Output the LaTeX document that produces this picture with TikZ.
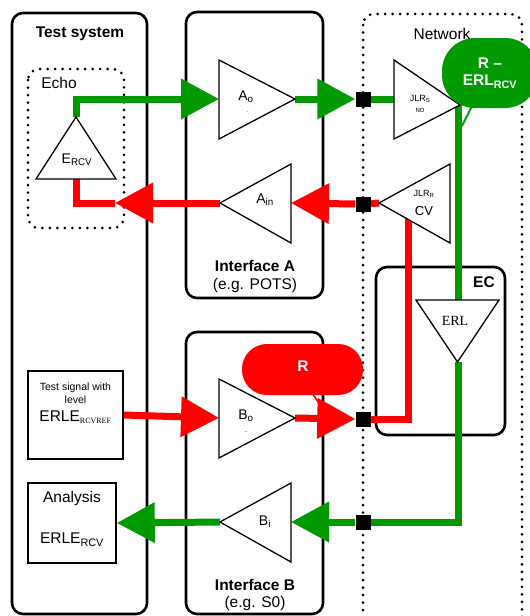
\documentclass[tikz,border=0pt]{standalone}
\usepackage{fontspec}
\setmainfont{Liberation Sans}
\newfontfamily\timesf{Liberation Serif}
\usetikzlibrary{arrows.meta}
\definecolor{gr}{RGB}{0,153,0}
\definecolor{rd}{RGB}{255,0,0}
\begin{document}
\begin{tikzpicture}[x=1pt,y=-1pt,
  box/.style={draw=black,line width=2.6pt,rounded corners=11pt,inner sep=0pt},
  dotbox/.style={draw=black,line width=3pt,dash pattern=on 0pt off 7.5pt,line cap=round,rounded corners=11pt},
  sbox/.style={draw=black,line width=1.6pt,inner sep=0pt},
  gline/.style={draw=gr,line width=7pt},
  rline/.style={draw=rd,line width=7pt},
  arr/.style={-{Triangle[length=38pt,width=39pt]}},
  tri/.style={draw=black,fill=white,line width=1.3pt,line join=miter},
  junc/.style={fill=black,minimum width=15pt,minimum height=15pt,inner sep=0pt},
  lbl/.style={inner sep=0pt,font=\fontsize{14}{16}\selectfont},
  ttl/.style={inner sep=0pt,font=\fontsize{15.5}{18}\selectfont\bfseries},
  txt/.style={inner sep=0pt,font=\fontsize{15.5}{18}\selectfont},
  small/.style={inner sep=0pt,font=\fontsize{10.5}{12}\selectfont},
  tiny/.style={inner sep=0pt,font=\fontsize{6}{7}\selectfont},
  bubtxt/.style={text=white,font=\fontsize{15.5}{19}\selectfont\bfseries,align=center,inner sep=0pt}
]
\useasboundingbox (0,0) rectangle (530,616);

% ---- frames ----
\node[box,minimum width=135pt,minimum height=601pt] (tsys) at (79.5,313.5) {};
\node[box,minimum width=137pt,minimum height=286pt] (ifa) at (254.5,155) {};
\node[box,minimum width=137pt,minimum height=282pt] (ifb) at (254.5,473) {};
\node[box,minimum width=129pt,minimum height=168pt] (ec) at (440.5,351) {};
\draw[dotbox] (28,69) rectangle (124,228);
\draw[dotbox] (363,14) rectangle (522,640);

% ---- boxes in test system ----
\node[sbox,minimum width=95pt,minimum height=88pt] (tsig) at (75.5,415) {};
\node[sbox,minimum width=88pt,minimum height=80pt] (an) at (72,523) {};

% ---- triangle reference points ----
\coordinate (Etop) at (76,117);
\coordinate (Ebot) at (76,179);
\coordinate (Aoin) at (219,99);
\coordinate (Aoout) at (295,99);
\coordinate (Ainin) at (291,203);
\coordinate (Ainout) at (220,203);
\coordinate (Boin) at (219,418);
\coordinate (Boout) at (295,418);
\coordinate (Biin) at (291,522);
\coordinate (Biout) at (220,522);
\coordinate (JSin) at (394,99);
\coordinate (JSout) at (458,104);
\coordinate (JRout) at (379,203);
\coordinate (JRbot) at (408,214);
\coordinate (ERLtop) at (458,300);
\coordinate (ERLbot) at (458,362);
\coordinate (ra) at (115,203);

% ---- junctions ----
\node[junc] (J1) at (363,99) {};
\node[junc] (J2) at (363,204) {};
\node[junc] (J3) at (363,419) {};
\node[junc] (J4) at (363,522) {};

% ---- green path ----
\draw[gline,arr] (Etop) |- (Aoin);
\draw[gline,arr] (Aoout) -- (J1.west);
\draw[gline] (J1.center) -- (JSin);
\draw[gline] (JSout) -- (ERLtop);
\draw[gline] (ERLbot) |- (J4.center);
\draw[gline,arr] (J4.west) -- (Biin);
\draw[gline,arr] (Biout) -- (an.east);

% ---- red path ----
\draw[rline] (J2.center) -- (JRout);
\draw[rline,arr] (J2.west) -- (Ainin);
\draw[rline,arr] (Ainout) -- (ra);
\draw[rline] (ra) -| (Ebot);
\draw[rline,arr] (tsig.east) -- (Boin);
\draw[rline,arr] (Boout) -- (J3.west);
\draw[rline] (J3.center) -| (JRbot);

% ---- triangles ----
\draw[tri] (Etop) -- (116,179) -- (36,179) -- cycle;
\draw[tri] (219,60) -- (Aoout) -- (219,139) -- cycle;
\draw[tri] (291,164) -- (Ainout) -- (291,243) -- cycle;
\draw[tri] (219,379) -- (Boout) -- (219,458) -- cycle;
\draw[tri] (291,483) -- (Biout) -- (291,562) -- cycle;
\draw[tri] (394,60) -- (460,105) -- (394,139) -- cycle;
\draw[tri] (450,164) -- (JRout) -- (450,243) -- cycle;
\draw[tri] (416,300) -- (499,300) -- (457.5,362) -- cycle;

% ---- junctions on top ----
\node[junc] at (J1) {};
\node[junc] at (J2) {};
\node[junc] at (J3) {};
\node[junc] at (J4) {};

% ---- bubbles ----
\draw[gr,line width=2pt] (473,104) -- (462,126);
\node[fill=gr,rounded corners=33pt,minimum width=96pt,minimum height=70pt,inner sep=0pt] (bubg) at (490,73) {};
\node[bubtxt] at (490,63) {R –};
\node[bubtxt] at (490,82) {ERL\textsubscript{RCV}};
\draw[rd,line width=1.5pt] (312,393) -- (323,409);
\node[fill=rd,rounded corners=25pt,minimum width=121pt,minimum height=51pt,inner sep=0pt] (bubr) at (302.5,369.5) {};
\node[bubtxt] at (303,366) {R};

% ---- texts ----
\node[ttl] at (80,34) {Test system};
\node[txt] at (59,83) {Echo};
\node[lbl] at (77,160) {E\textsubscript{RCV}};
\node[lbl] at (246,97) {A\textsubscript{o}};
\node[tiny] at (248,112) {.};
\node[lbl] at (265,200) {A\textsubscript{in}};
\node[lbl] at (246,416) {B\textsubscript{o}};
\node[tiny] at (246,432) {..};
\node[lbl] at (265,522) {B\textsubscript{i}};
\node[ttl] at (255,266) {Interface A};
\node[txt] at (255,285) {(e.g. POTS)};
\node[ttl] at (255,585) {Interface B};
\node[txt] at (255,603) {(e.g. S0)};
\node[txt] at (442,34) {Network};
\node[inner sep=0pt,font=\fontsize{9}{10}\selectfont] at (420,99) {JLR\textsubscript{S}};
\node[tiny] at (420,110) {ND};
\node[inner sep=0pt,font=\fontsize{9}{10}\selectfont] at (424,194) {JLR\textsubscript{R}};
\node[inner sep=0pt,font=\fontsize{13}{15}\selectfont] at (424,211) {CV};
\node[ttl] at (484,282) {EC};
\node[inner sep=0pt,font=\fontsize{14}{16}\selectfont\timesf] at (455,321) {ERL};
\node[small] at (75.5,388) {Test signal with};
\node[small] at (75.5,400) {level};
\node[txt] at (75.5,417) {ERLE{\timesf\fontsize{12}{14}\selectfont\textsubscript{RCVREF}}};
\node[txt] at (72,498) {Analysis};
\node[txt] at (72,540) {ERLE\textsubscript{RCV}};
\end{tikzpicture}
\end{document}
